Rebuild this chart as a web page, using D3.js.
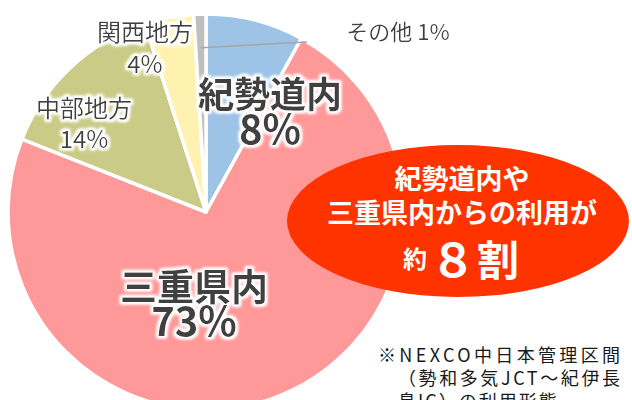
<!DOCTYPE html>
<html>
<head>
<meta charset="utf-8">
<script src="https://cdn.jsdelivr.net/npm/d3@7"></script>
<style>
  html, body { margin: 0; padding: 0; background: #fff; }
  svg { display: block; font-family: "Noto Sans CJK JP", "Noto Sans", sans-serif; }
</style>
</head>
<body>
<svg id="chart"></svg>
<script>
// share of usage by origin (%), clockwise from 12 o'clock
const categories = ["紀勢道内", "三重県内", "中部地方", "関西地方", "その他"];
const shares = [8, 73, 14, 4, 1];
const shareLabels = ["8%", "73%", "14%", "4%", "1%"];
const sliceColors = ["#9DC3E6", "#FF9999", "#C9CB87", "#FFF2B0", "#BFBFBF"];

const calloutLines = ["紀勢道内や", "三重県内からの利用が"];
const calloutLast = ["約", "８", "割"];
const noteLines = ["※NEXCO中日本管理区間", "（勢和多気JCT～紀伊長", "島IC）の利用形態"];

const width = 632;
const height = 400;
const cx = 206, cy = 212, radius = 198;

const svg = d3.select("#chart")
    .attr("width", width)
    .attr("height", height);

// soft white halo behind the labels
const glow = svg.append("defs").append("filter")
    .attr("id", "glow")
    .attr("x", "-20%").attr("y", "-30%")
    .attr("width", "140%").attr("height", "160%");
glow.append("feMorphology").attr("in", "SourceAlpha").attr("operator", "dilate").attr("radius", 1.5).attr("result", "d");
glow.append("feGaussianBlur").attr("in", "d").attr("stdDeviation", 1.6).attr("result", "b");
glow.append("feFlood").attr("flood-color", "#fff").attr("result", "f");
glow.append("feComposite").attr("in", "f").attr("in2", "b").attr("operator", "in").attr("result", "g");
const merge = glow.append("feMerge");
merge.append("feMergeNode").attr("in", "g");
merge.append("feMergeNode").attr("in", "g");
merge.append("feMergeNode").attr("in", "SourceGraphic");

const pie = d3.pie().sort(null).value(d => d);
const arc = d3.arc().innerRadius(0).outerRadius(radius);

const g = svg.append("g").attr("transform", `translate(${cx}, ${cy})`);

g.selectAll("path")
    .data(pie(shares))
    .join("path")
    .attr("d", arc)
    .attr("fill", (d, i) => sliceColors[i])
    .attr("stroke", "#fff")
    .attr("stroke-width", 3.5)
    .attr("stroke-linejoin", "round");

// label layout: [x, y of name, y of value, name size, value size, bold]
const labelLayout = [
    [270, 92, 127, 36, 40, true],
    [194, 285, 319, 37, 40, true],
    [84, 106, 137, 24, 24, false],
    [145, 30, 62, 24, 24, false]
];

labelLayout.forEach((p, i) => {
    const t = svg.append("g").attr("filter", "url(#glow)")
        .attr("fill", "#404040")
        .attr("font-weight", p[5] ? "bold" : "normal")
        .attr("text-anchor", "middle")
        .attr("dominant-baseline", "central");
    t.append("text").attr("x", p[0]).attr("y", p[1]).attr("font-size", p[3]).text(categories[i]);
    t.append("text").attr("x", p[0]).attr("y", p[2]).attr("font-size", p[4]).text(shareLabels[i]);
});

// small slice: leader line + label outside
const other = pie(shares)[4];
const otherMid = (other.startAngle + other.endAngle) / 2;
const r0 = radius * 0.83;
svg.append("path")
    .attr("d", d3.line()([[cx + r0 * Math.sin(otherMid), cy - r0 * Math.cos(otherMid)], [307, 42]]))
    .attr("stroke", "#A6A6A6")
    .attr("stroke-width", 1.5)
    .attr("fill", "none");
svg.append("text")
    .attr("filter", "url(#glow)")
    .attr("x", 398).attr("y", 30)
    .attr("text-anchor", "middle")
    .attr("dominant-baseline", "central")
    .attr("font-size", 22)
    .attr("fill", "#404040")
    .text(categories[4] + "\u00a0" + shareLabels[4]);

// callout ellipse
svg.append("ellipse")
    .attr("cx", 458).attr("cy", 221)
    .attr("rx", 171).attr("ry", 76)
    .attr("fill", "#FF3300");

const callout = svg.append("g")
    .attr("fill", "#fff")
    .attr("font-weight", "bold")
    .attr("text-anchor", "middle")
    .attr("dominant-baseline", "central");
calloutLines.forEach((s, i) => {
    callout.append("text")
        .attr("x", 462).attr("y", 177 + i * 34)
        .attr("font-size", 27)
        .text(s);
});
const lastX = [415, 453, 498];
const lastSize = [24, 46, 42];
calloutLast.forEach((s, i) => {
    callout.append("text")
        .attr("x", lastX[i]).attr("y", 257)
        .attr("font-size", lastSize[i])
        .text(s);
});

// footnote
const noteX = [378, 398, 398];
const noteLen = [244, 224, null];
noteLines.forEach((s, i) => {
    const t = svg.append("text")
        .attr("x", noteX[i]).attr("y", 362 + i * 23)
        .attr("font-size", 18)
        .attr("letter-spacing", 2)
        .attr("fill", "#1a1a1a")
        .text(s);
    if (noteLen[i]) t.attr("textLength", noteLen[i]).attr("lengthAdjust", "spacing");
});
</script>
</body>
</html>
